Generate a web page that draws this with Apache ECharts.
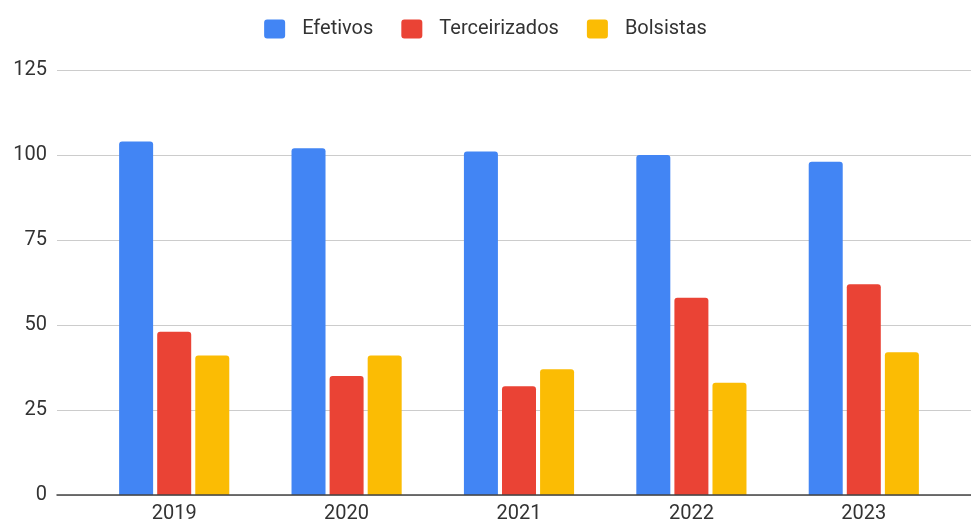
<!DOCTYPE html>
<html>
<head>
<meta charset="utf-8">
<script src="https://cdn.jsdelivr.net/npm/echarts@6/dist/echarts.min.js"></script>
<style>
  html, body { margin: 0; padding: 0; background: #fff; }
  #chart { width: 971px; height: 526px; }
</style>
</head>
<body>
<div id="chart"></div>
<script>
// Staff counts per year
const categories = ['2019', '2020', '2021', '2022', '2023'];
const efetivos = [104, 102, 101, 100, 98];
const terceirizados = [48, 35, 32, 58, 62];
const bolsistas = [41, 41, 37, 33, 42];

// Value axis range
const yMin = 0;
const yMax = 125;
const yStep = 25;

const colors = ['#4285F4', '#EA4335', '#FBBC04'];
const font = 'Roboto, "Liberation Sans", Arial, sans-serif';

const chart = echarts.init(document.getElementById('chart'), null, { renderer: 'canvas' });

function barSeries(name, data, color) {
  return {
    name: name,
    type: 'bar',
    xAxisIndex: 0,
    yAxisIndex: 0,
    data: data,
    barWidth: 34,
    barGap: '12%',
    itemStyle: { color: color, borderRadius: [3, 3, 0, 0] },
    z: 3
  };
}

chart.setOption({
  animation: false,
  backgroundColor: '#ffffff',
  textStyle: { fontFamily: font },
  legend: {
    top: 14,
    left: 'center',
    itemWidth: 21,
    itemHeight: 19,
    itemGap: 28,
    icon: 'path://M3,0 H18 A3,3 0 0 1 21,3 V16 A3,3 0 0 1 18,19 H3 A3,3 0 0 1 0,16 V3 A3,3 0 0 1 3,0 Z',
    textStyle: { fontSize: 20, color: '#333', fontFamily: font, padding: [0, 0, 0, 12] },
    data: ['Efetivos', 'Terceirizados', 'Bolsistas']
  },
  grid: [
    // bars
    { left: 88, right: 21, top: 70, bottom: 31 },
    // full-width gridlines and value labels
    { left: 57, right: 0, top: 70, bottom: 31 }
  ],
  xAxis: [
    {
      type: 'category',
      gridIndex: 0,
      data: categories,
      axisLine: { show: false },
      axisTick: { show: false },
      axisLabel: { fontSize: 20, color: '#333', margin: 9, fontFamily: font },
      splitLine: { show: false }
    },
    {
      type: 'value',
      gridIndex: 1,
      min: 0,
      max: 1,
      axisLabel: { show: false },
      axisTick: { show: false },
      splitLine: { show: false },
      axisLine: { show: true, onZero: false, lineStyle: { color: '#444', width: 1.5 } },
      z: 5
    }
  ],
  yAxis: [
    {
      type: 'value',
      gridIndex: 0,
      min: yMin,
      max: yMax,
      interval: yStep,
      axisLabel: { show: false },
      axisLine: { show: false },
      axisTick: { show: false },
      splitLine: { show: false }
    },
    {
      type: 'value',
      gridIndex: 1,
      min: yMin,
      max: yMax,
      interval: yStep,
      axisLine: { show: false },
      axisTick: { show: false },
      axisLabel: { fontSize: 20, color: '#333', margin: 10, fontFamily: font },
      splitLine: { show: true, lineStyle: { color: '#cccccc', width: 1 } }
    }
  ],
  series: [
    barSeries('Efetivos', efetivos, colors[0]),
    barSeries('Terceirizados', terceirizados, colors[1]),
    barSeries('Bolsistas', bolsistas, colors[2])
  ]
});
</script>
</body>
</html>
